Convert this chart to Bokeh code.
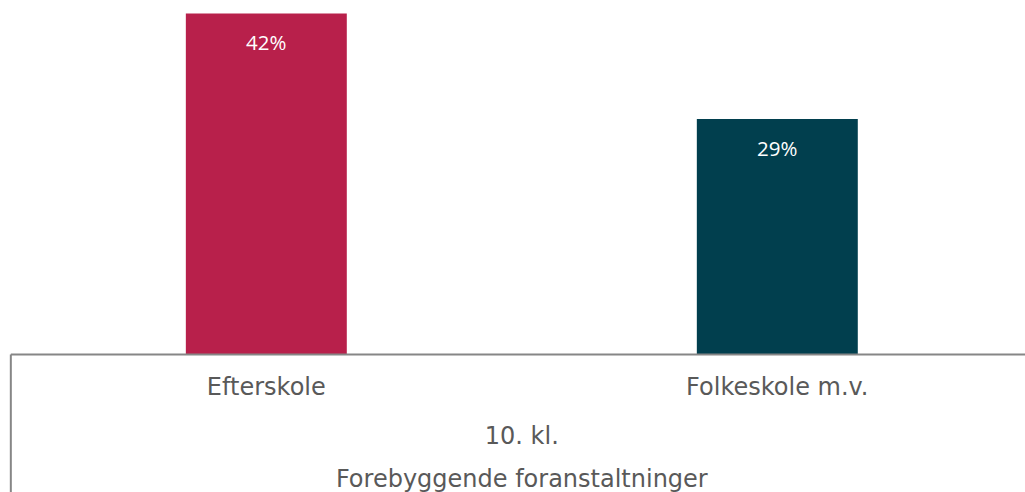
from bokeh.plotting import figure
from bokeh.models import ColumnDataSource, Range1d
from bokeh.core.properties import value
from bokeh.embed import file_html
from bokeh.resources import INLINE

# ---- data ----
categories = ["Efterskole", "Folkeskole m.v."]
values = [42, 29]
value_labels = ["42%", "29%"]
group_label = "10. kl."
super_group_label = "Forebyggende foranstaltninger"
bar_colors = ["#B8204B", "#013F4E"]

xs = [i + 0.5 for i in range(len(categories))]
mid = len(categories) / 2
x_end = 1.9857
y_min = -17.0

src = ColumnDataSource(dict(x=xs, top=values, color=bar_colors,
                            lab=value_labels, cat=categories))

p = figure(width=1025, height=492, output_backend="svg", toolbar_location=None,
           x_range=Range1d(-0.0202, x_end), y_range=Range1d(y_min, 43.6),
           x_axis_location=None, y_axis_location=None,
           min_border=0, min_border_left=0, min_border_right=0,
           min_border_top=0, min_border_bottom=0)
p.outline_line_color = None
p.grid.visible = False
p.background_fill_color = "white"
p.border_fill_color = "white"

p.vbar(x="x", top="top", bottom=0, width=0.315, color="color", line_color=None, source=src)

# value labels inside bars
p.text(x="x", y="top", text="lab", source=src, y_offset=29,
       text_align="center", text_baseline="middle",
       text_font=value("Open Sans"), text_font_size="20.5px", text_color="white")

# baseline and left divider
p.segment(x0=[0, 0], y0=[0, 0], x1=[x_end + 0.1, 0], y1=[0, y_min],
          line_color="#868686", line_width=2)

# category labels
p.text(x="x", y=-4.05, text="cat", source=src, text_align="center",
       text_baseline="middle", text_font=value("DejaVu Sans"),
       text_font_size="24px", text_color="#595959")
p.text(x=[mid], y=[-10.1], text=[group_label], text_align="center",
       text_baseline="middle", text_font=value("DejaVu Sans"),
       text_font_size="24px", text_color="#595959")
p.text(x=[mid], y=[-15.3], text=[super_group_label], text_align="center",
       text_baseline="middle", text_font=value("DejaVu Sans"),
       text_font_size="24px", text_color="#595959")

open("out.html", "w").write(file_html(p, INLINE))
